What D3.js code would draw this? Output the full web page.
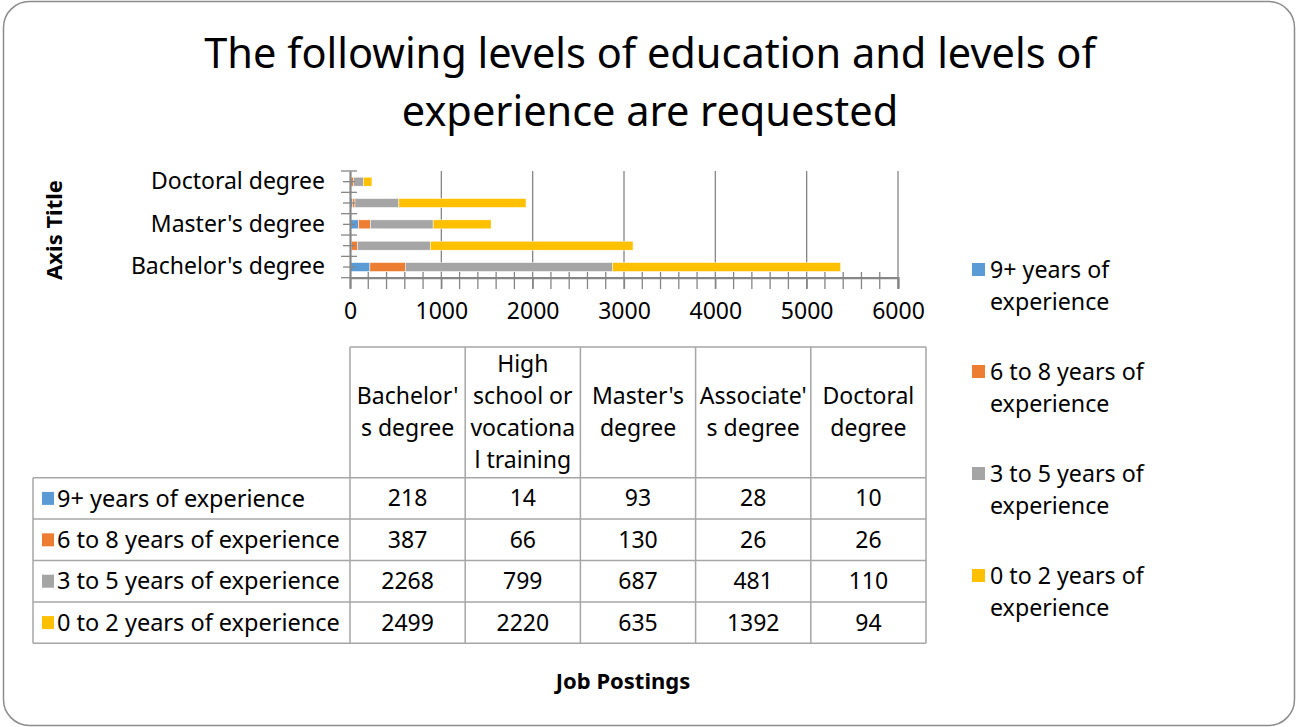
<html>
<head>
<script src="https://d3js.org/d3.v7.min.js"></script>
<style>
  body { margin: 0; background: #fff; }
  text { font-family: "Noto Sans", "Open Sans", sans-serif; fill: #000; }
</style>
</head>
<body>
<svg id="chart"></svg>
<script>
// data
var categories = ["Bachelor's degree", "High school or vocational training", "Master's degree", "Associate's degree", "Doctoral degree"];
var headerLines = [["Bachelor'", "s degree"], ["High", "school or", "vocationa", "l training"], ["Master's", "degree"], ["Associate'", "s degree"], ["Doctoral", "degree"]];
var seriesNames = ["9+ years of experience", "6 to 8 years of experience", "3 to 5 years of experience", "0 to 2 years of experience"];
var legendLines = [["9+ years of", "experience"], ["6 to 8 years of", "experience"], ["3 to 5 years of", "experience"], ["0 to 2 years of", "experience"]];
var colors = ["#5B9BD5", "#ED7D31", "#A5A5A5", "#FFC000"];
var nine = [218, 14, 93, 28, 10];
var sixToEight = [387, 66, 130, 26, 26];
var threeToFive = [2268, 799, 687, 481, 110];
var zeroToTwo = [2499, 2220, 635, 1392, 94];
var xTicks = [0, 1000, 2000, 3000, 4000, 5000, 6000];
var titleLines = ["The following levels of education and levels of", "experience are requested"];

var values = [nine, sixToEight, threeToFive, zeroToTwo];
var rows = categories.map(function(c, i) {
  var r = { cat: c };
  seriesNames.forEach(function(s, j) { r[s] = values[j][i]; });
  return r;
});

var W = 1298, H = 727;
var svg = d3.select("#chart").attr("width", W).attr("height", H);

// outer frame
svg.append("rect")
  .attr("x", 3.5).attr("y", 1.5).attr("width", W - 7).attr("height", H - 3)
  .attr("rx", 26).attr("ry", 26)
  .attr("fill", "#fff").attr("stroke", "#8c8c8c").attr("stroke-width", 1.5);

// title
svg.selectAll(".title").data(titleLines).enter().append("text")
  .attr("class", "title")
  .attr("x", 650).attr("y", function(d, i) { return 68 + i * 58; })
  .attr("text-anchor", "middle")
  .style("font-size", "41.5px")
  .text(function(d) { return d; });

// scales
var x = d3.scaleLinear().domain([0, 6000]).range([350, 898]);
var y = d3.scaleBand().domain(categories.slice().reverse()).range([171, 277.7])
  .paddingInner(0.58).paddingOuter(0.29);
var axisGray = "#868686";

// gridlines (major)
svg.append("g").selectAll("line").data(xTicks.slice(1)).enter().append("line")
  .attr("x1", function(d) { return x(d); }).attr("x2", function(d) { return x(d); })
  .attr("y1", 171).attr("y2", 289)
  .attr("stroke", axisGray).attr("stroke-width", 1.3);

// minor x ticks
svg.append("g").selectAll("line").data(d3.range(200, 6000, 200).filter(function(v) { return v % 1000 != 0; }))
  .enter().append("line")
  .attr("x1", function(d) { return x(d); }).attr("x2", function(d) { return x(d); })
  .attr("y1", 272).attr("y2", 289)
  .attr("stroke", axisGray).attr("stroke-width", 1.3);

// bars
var stack = d3.stack().keys(seriesNames)(rows);
svg.append("g").selectAll("g").data(stack).enter().append("g")
  .attr("fill", function(d, i) { return colors[i]; })
  .selectAll("rect").data(function(d) { return d; }).enter().append("rect")
  .attr("x", function(d) { return x(d[0]); })
  .attr("width", function(d) { return x(d[1]) - x(d[0]); })
  .attr("y", function(d) { return y(d.data.cat); })
  .attr("height", y.bandwidth())
  .attr("stroke", "#fff").attr("stroke-width", 0.5);

// x axis
var xAxis = svg.append("g").attr("transform", "translate(0,277.7)")
  .call(d3.axisBottom(x).tickValues(xTicks).tickFormat(d3.format("d")).tickSize(11).tickPadding(14));
xAxis.select(".domain").attr("stroke", axisGray).attr("stroke-width", 2.2);
xAxis.selectAll(".tick line").attr("stroke", axisGray).attr("stroke-width", 1.3);
xAxis.selectAll(".tick text").style("font-size", "23px").attr("fill", "#000")
  .style("font-family", "'Noto Sans', sans-serif");

// y axis
var yAxis = svg.append("g").attr("transform", "translate(350,0)")
  .call(d3.axisLeft(y).tickSize(0).tickPadding(25)
    .tickFormat(function(d) { return (categories.indexOf(d) % 2 == 0) ? d : ""; }));
yAxis.select(".domain").attr("stroke", axisGray).attr("stroke-width", 2.2);
yAxis.selectAll(".tick text").style("font-size", "23px").attr("fill", "#000")
  .style("font-family", "'Noto Sans', sans-serif");
var step = y.step();
var bounds = d3.range(6).map(function(i) { return 171 + i * step; });
svg.append("g").selectAll("line").data(bounds).enter().append("line")
  .attr("x1", 341).attr("x2", 357)
  .attr("y1", function(d) { return d; }).attr("y2", function(d) { return d; })
  .attr("stroke", axisGray).attr("stroke-width", 1.3);
svg.append("g").selectAll("line").data(categories).enter().append("line")
  .attr("x1", 343).attr("x2", 355)
  .attr("y1", function(d) { return y(d) + y.bandwidth() / 2; })
  .attr("y2", function(d) { return y(d) + y.bandwidth() / 2; })
  .attr("stroke", axisGray).attr("stroke-width", 1.3);

// axis titles
svg.append("text")
  .attr("transform", "translate(62,230) rotate(-90)")
  .attr("text-anchor", "middle")
  .style("font-size", "22px").style("font-weight", "bold")
  .text("Axis Title");
svg.append("text")
  .attr("x", 623).attr("y", 689)
  .attr("text-anchor", "middle")
  .style("font-size", "22px").style("font-weight", "bold")
  .text("Job Postings");

// legend
var legend = svg.append("g").selectAll("g").data(legendLines).enter().append("g")
  .attr("transform", function(d, i) { return "translate(972," + (270 + i * 102) + ")"; });
legend.append("rect").attr("x", 0).attr("y", -7).attr("width", 13).attr("height", 13)
  .attr("fill", function(d, i) { return colors[i]; });
legend.selectAll("text").data(function(d) { return d; }).enter().append("text")
  .attr("x", 18).attr("y", function(d, i) { return i * 32; })
  .attr("dy", "0.35em")
  .style("font-size", "23.2px")
  .text(function(d) { return d; });

// data table
var tLeft = 33, tCol0 = 350, colW = 115.2, headTop = 347, headBot = 477.7, rowH = 41.4;
var tRight = tCol0 + colW * categories.length;
var tGray = "#a6a6a6";
var table = svg.append("g");
// horizontal lines
table.append("line").attr("x1", tCol0).attr("x2", tRight).attr("y1", headTop).attr("y2", headTop)
  .attr("stroke", tGray).attr("stroke-width", 1.5);
table.selectAll(".hl").data(d3.range(seriesNames.length + 1)).enter().append("line")
  .attr("x1", tLeft).attr("x2", tRight)
  .attr("y1", function(i) { return headBot + i * rowH; })
  .attr("y2", function(i) { return headBot + i * rowH; })
  .attr("stroke", tGray).attr("stroke-width", 1.5);
// vertical lines
table.selectAll(".vl").data(d3.range(categories.length + 1)).enter().append("line")
  .attr("x1", function(i) { return tCol0 + i * colW; })
  .attr("x2", function(i) { return tCol0 + i * colW; })
  .attr("y1", headTop).attr("y2", headBot + rowH * seriesNames.length)
  .attr("stroke", tGray).attr("stroke-width", 1.5);
table.append("line").attr("x1", tLeft).attr("x2", tLeft)
  .attr("y1", headBot).attr("y2", headBot + rowH * seriesNames.length)
  .attr("stroke", tGray).attr("stroke-width", 1.5);
// header text
headerLines.forEach(function(lines, c) {
  var cy = (headTop + headBot) / 2;
  table.selectAll(".h" + c).data(lines).enter().append("text")
    .attr("x", tCol0 + c * colW + colW / 2)
    .attr("y", function(d, i) { return cy + (i - (lines.length - 1) / 2) * 32; })
    .attr("dy", "0.35em").attr("text-anchor", "middle")
    .style("font-size", "23px")
    .text(function(d) { return d; });
});
// rows
seriesNames.forEach(function(s, r) {
  var cy = headBot + r * rowH + rowH / 2;
  table.append("rect").attr("x", 42).attr("y", cy - 6.5).attr("width", 12).attr("height", 13)
    .attr("fill", colors[r]);
  table.append("text").attr("x", 57).attr("y", cy).attr("dy", "0.35em")
    .style("font-size", "23.5px").text(s);
  table.selectAll(".v" + r).data(values[r]).enter().append("text")
    .attr("x", function(d, i) { return tCol0 + i * colW + colW / 2; })
    .attr("y", cy).attr("dy", "0.35em").attr("text-anchor", "middle")
    .style("font-size", "23px")
    .text(function(d) { return d; });
});
</script>
</body>
</html>
